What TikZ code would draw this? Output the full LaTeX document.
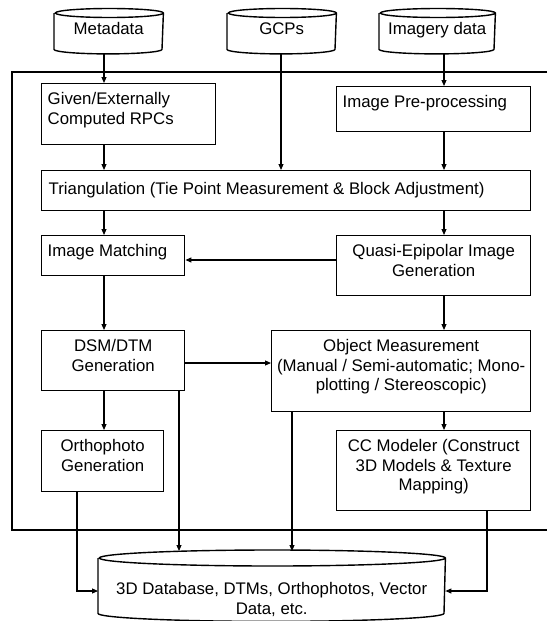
\documentclass[tikz,border=0pt]{standalone}
\usepackage{fontspec}
\setmainfont{Liberation Sans}
\usetikzlibrary{arrows.meta}
\tikzset{
    >={Triangle[length=6pt,width=5pt]}
}

\begin{document}
\begin{tikzpicture}[x=1pt, y=-1pt, font=\fontsize{16.8}{19.3}\selectfont]
  % common styles: boxes with text set from the top, and the connectors
  \tikzset{
    blk/.style n args={4}{
      draw, line width=1.4pt, inner sep=0pt, anchor=north west,
      execute at begin node={\begin{minipage}[t][#2pt][t]{#1pt}#3\rule{0pt}{#4pt}},
      execute at end node={\end{minipage}}
    },
    cblk/.style 2 args={blk={#1}{#2}{\centering}{21}},
    lblk/.style 2 args={blk={#1}{#2}{\raggedright\leftskip=6pt}{21}},
    link/.style={->, line width=1.1pt}
  }

  \useasboundingbox (0,0) rectangle (547,621);

  % input stores (outline drawn below)
  \node[cblk={108}{35}, draw=none] (meta) at (54,13)  {Metadata};
  \node[cblk={108}{35}, draw=none] (gcp)  at (227,13) {GCPs};
  \node[cblk={115}{35}, draw=none] (img)  at (379,13) {Imagery data};

  % processing frame, open to the right
  \draw[line width=1.6pt] (547,72) -- (12,72) -- (12,530) -- (547,530);

  % processing steps
  \node[lblk={174}{61}] (given) at (41,83)  {Given/Externally\\Computed RPCs};
  \node[lblk={194}{45}] (prep)  at (336,86) {Image Pre-processing};
  \node[blk={489}{40}{\raggedright\leftskip=7pt}{24}] (tri) at (41,170)
       {Triangulation (Tie Point Measurement \& Block Adjustment)};
  \node[lblk={143}{40}] (im)    at (41,235)  {Image Matching};
  \node[cblk={194}{60}] (quasi) at (336,235) {Quasi-Epipolar Image\\Generation};
  \node[cblk={143}{60}] (dsm)   at (41,330)  {DSM/DTM\\Generation};
  \node[cblk={259}{81}] (obj)   at (271,330)
       {Object Measurement\\(Manual / Semi-automatic; Mono-\\plotting / Stereoscopic)};
  \node[cblk={122}{61}] (ortho) at (41,430)  {Orthophoto\\Generation};
  \node[cblk={194}{80}] (cc)    at (336,430)
       {CC Modeler (Construct\\3D Models \& Texture\\Mapping)};

  % output store
  \node[blk={346}{54}{\centering}{36}, draw=none] (db) at (98,558)
       {3D Database, DTMs, Orthophotos, Vector\\Data, etc.};

  % cylinder outlines round the store nodes
  \foreach \s/\r in {meta/54pt, gcp/54pt, img/57.5pt}
    \draw[line width=1.4pt] (\s.north west) -- (\s.south west)
      arc[start angle=180, end angle=360, x radius=\r, y radius=4.5pt]
      -- (\s.north east) arc[start angle=0, end angle=360, x radius=\r, y radius=4.5pt];
  \draw[line width=1.4pt] (db.north west) -- (db.south west)
    arc[start angle=180, end angle=360, x radius=173pt, y radius=8pt]
    -- (db.north east) arc[start angle=0, end angle=360, x radius=173pt, y radius=8pt];

  % columns and rows of the connectors
  \coordinate (colL) at (104,0);
  \coordinate (colM) at (281,0);
  \coordinate (colR) at (444,0);
  \coordinate (colO) at (77,0);
  \coordinate (colD) at (179,0);
  \coordinate (colE) at (292,0);
  \coordinate (colC) at (487,0);
  \coordinate (rowQ) at (0,260);
  \coordinate (rowD) at (0,363);
  \coordinate (rowB) at (0,591);

  % connectors
  \draw[link, shorten <=4.5pt] (meta.south -| colL) -- (given.north -| colL);
  \draw[link, shorten <=4.5pt] (gcp.south -| colM) -- (tri.north -| colM);
  \draw[link, shorten <=4.5pt] (img.south -| colR) -- (prep.north -| colR);
  \draw[link] (given.south -| colL) -- (tri.north -| colL);
  \draw[link] (prep.south -| colR) -- (tri.north -| colR);
  \draw[link] (tri.south -| colL) -- (im.north -| colL);
  \draw[link] (tri.south -| colR) -- (quasi.north -| colR);
  \draw[link] (quasi.west |- rowQ) -- (im.east |- rowQ);
  \draw[link] (im.south -| colL) -- (dsm.north -| colL);
  \draw[link] (quasi.south -| colR) -- (obj.north -| colR);
  \draw[link] (dsm.east |- rowD) -- (obj.west |- rowD);
  \draw[link] (dsm.south -| colL) -- (ortho.north -| colL);
  \draw[link] (obj.south -| colR) -- (cc.north -| colR);
  \draw[link, shorten >=7pt] (dsm.south -| colD) -- (db.north -| colD);
  \draw[link, shorten >=7pt] (obj.south -| colE) -- (db.north -| colE);
  \draw[link] (ortho.south -| colO) |- (db.west |- rowB);
  \draw[link] (cc.south -| colC) |- (db.east |- rowB);
\end{tikzpicture}
\end{document}
